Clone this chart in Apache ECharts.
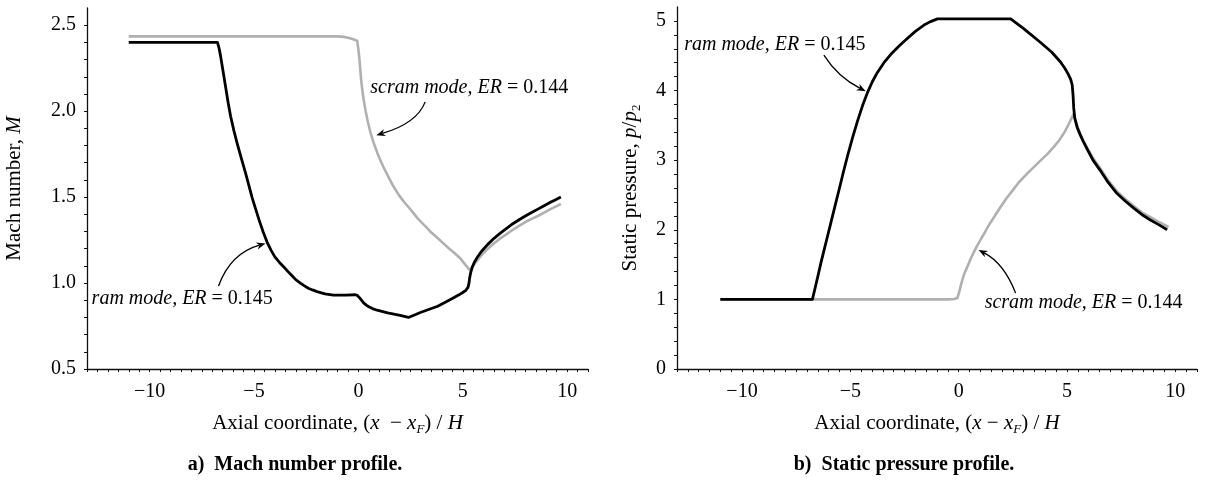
<!DOCTYPE html>
<html>
<head>
<meta charset="utf-8">
<script src="https://cdn.jsdelivr.net/npm/echarts@6/dist/echarts.min.js"></script>
<style>html,body{margin:0;padding:0;background:#fff}#c{width:1208px;height:480px}</style>
</head>
<body>
<div id="c"></div>
<script>
// ---- Data ----
// a) Mach number profile
const machRamX = [-11,-6.75,-6.68,-6.6,-6.5,-6.36,-6.24,-6.12,-5.96,-5.8,-5.6,-5.41,-5.25,-5.09,-4.92,-4.75,-4.56,-4.37,-4.18,-4.0,-3.78,-3.57,-3.38,-3.2,-3.0,-2.78,-2.6,-2.4,-2.2,-1.98,-1.6,-1.2,-0.6,-0.15,-0.05,0.05,0.15,0.25,0.38,0.5,0.7,0.9,1.4,2.0,2.4,3.0,3.8,4.5,4.8,5.0,5.15,5.25,5.3,5.33,5.38,5.45,5.55,5.7,5.9,6.2,6.5,6.8,7.1,7.4,7.7,8.0,8.3,8.6,8.9,9.2,9.45,9.7];
const machRamY = [2.40,2.40,2.37,2.32,2.245,2.14,2.05,1.97,1.885,1.81,1.722,1.642,1.57,1.497,1.43,1.365,1.297,1.237,1.19,1.152,1.12,1.093,1.068,1.045,1.02,1.0,0.985,0.97,0.96,0.95,0.937,0.93,0.93,0.932,0.928,0.915,0.9,0.885,0.872,0.862,0.85,0.842,0.826,0.812,0.80,0.83,0.865,0.91,0.93,0.945,0.958,0.975,1.0,1.03,1.06,1.09,1.12,1.15,1.185,1.225,1.26,1.29,1.318,1.345,1.368,1.39,1.41,1.43,1.45,1.47,1.485,1.50];
const machScramX = [-11,-1.0,-0.7,-0.45,-0.25,-0.06,0.0,0.06,0.12,0.18,0.25,0.35,0.45,0.57,0.72,0.9,1.05,1.2,1.45,1.69,1.95,2.2,2.45,2.65,2.85,3.05,3.25,3.44,3.7,3.9,4.1,4.3,4.6,4.88,5.1,5.33,5.42,5.5,5.65,5.8,6.0,6.2,6.5,6.8,7.1,7.4,7.7,8.0,8.3,8.6,8.9,9.2,9.45,9.7];
const machScramY = [2.435,2.435,2.432,2.425,2.418,2.41,2.36,2.29,2.2,2.13,2.07,2.0,1.94,1.88,1.82,1.76,1.715,1.675,1.615,1.56,1.51,1.47,1.435,1.405,1.375,1.35,1.325,1.30,1.272,1.25,1.228,1.205,1.175,1.144,1.11,1.076,1.088,1.10,1.125,1.148,1.175,1.20,1.232,1.26,1.285,1.31,1.333,1.355,1.373,1.39,1.41,1.43,1.445,1.46];
// b) Static pressure profile
const presRamX = [-11,-6.75,-6.62,-6.5,-6.36,-6.21,-6.05,-5.9,-5.7,-5.5,-5.32,-5.13,-4.9,-4.67,-4.44,-4.21,-3.98,-3.75,-3.45,-3.13,-2.75,-2.36,-2.0,-1.6,-1.3,-0.98,2.4,3.0,3.78,4.3,4.7,4.9,5.05,5.17,5.24,5.28,5.31,5.36,5.47,5.6,5.75,5.93,6.2,6.54,6.9,7.31,7.7,8.08,8.45,8.85,9.25,9.62];
const presRamY = [1.0,1.0,1.17,1.33,1.52,1.71,1.91,2.1,2.35,2.6,2.83,3.06,3.32,3.56,3.78,3.97,4.13,4.26,4.4,4.52,4.64,4.75,4.85,4.94,4.99,5.03,5.03,4.89,4.69,4.55,4.41,4.32,4.24,4.16,4.08,3.93,3.75,3.6,3.47,3.37,3.27,3.16,3.0,2.85,2.68,2.52,2.41,2.31,2.22,2.14,2.07,2.0];
const presScramX = [-11,-0.5,-0.2,-0.06,0.02,0.1,0.18,0.25,0.4,0.55,0.7,0.85,1.0,1.2,1.4,1.65,1.94,2.2,2.5,2.8,3.17,3.5,3.8,4.1,4.39,4.65,4.9,5.1,5.31,5.4,5.5,5.7,5.93,6.2,6.54,6.9,7.31,7.7,8.08,8.45,8.85,9.25,9.69];
const presScramY = [1.0,1.0,1.005,1.02,1.1,1.2,1.29,1.36,1.47,1.58,1.68,1.77,1.85,1.96,2.07,2.19,2.33,2.45,2.57,2.69,2.81,2.91,3.0,3.09,3.19,3.29,3.41,3.53,3.67,3.56,3.47,3.31,3.18,3.03,2.88,2.71,2.55,2.44,2.34,2.25,2.18,2.11,2.04];

// axis ranges / tick labels
const xRange = [-13, 11];
const xLabelValues = [-10, -5, 0, 5, 10];
const machRange = [0.5, 2.6];
const machLabelValues = [0.5, 1.0, 1.5, 2.0, 2.5];
const presRange = [0, 5.2];
const presLabelValues = [0, 1, 2, 3, 4, 5];

// texts
const ramLabel = '{i|ram mode, ER} = 0.145';
const scramLabel = '{i|scram mode, ER} = 0.144';
const captionA = 'a)  Mach number profile.';
const captionB = 'b)  Static pressure profile.';

// ---- Rendering ----
const FONT = '"Liberation Serif", "Times New Roman", Times, serif';
const zip = (xs, ys) => xs.map((x, i) => [x, ys[i]]);
const near = (v, arr) => arr.some(a => Math.abs(a - v) < 1e-6);
const fmtNum = (v, dec) => { const s = Math.abs(v).toFixed(dec); return v < -1e-9 ? '\u2212' + s : s; };

const richBase = {
  i: { fontFamily: FONT, fontSize: 21, fontStyle: 'italic', color: '#000' },
  n: { fontFamily: FONT, fontSize: 21, color: '#000' },
  s: { fontFamily: FONT, fontSize: 13, color: '#000', padding: [12, 0, 0, 0] },
  si: { fontFamily: FONT, fontSize: 13, fontStyle: 'italic', color: '#000', padding: [12, 0, 0, 0] }
};
const nameStyle = { fontFamily: FONT, fontSize: 21, color: '#000', rich: richBase };

function xAxisCfg(gi, name) {
  return {
    type: 'value', gridIndex: gi, min: xRange[0], max: xRange[1], interval: 0.5,
    axisLine: { show: true, onZero: false, lineStyle: { color: '#111', width: 1.3 } },
    axisTick: { show: true, length: 3, lineStyle: { color: '#111', width: 1 } },
    splitLine: { show: false },
    axisLabel: { margin: 13, fontFamily: FONT, fontSize: 20, color: '#000',
      formatter: v => near(v, xLabelValues) ? fmtNum(v, 0) : '' },
    name: name, nameLocation: 'middle', nameGap: 42, nameTextStyle: nameStyle
  };
}
function yAxisCfg(gi, range, interval, labels, dec, name, gap) {
  return {
    type: 'value', gridIndex: gi, min: range[0], max: range[1], interval: interval,
    axisLine: { show: true, onZero: false, lineStyle: { color: '#111', width: 1.3 } },
    axisTick: { show: true, length: 3, lineStyle: { color: '#111', width: 1 } },
    splitLine: { show: false },
    axisLabel: { margin: 11, fontFamily: FONT, fontSize: 20, color: '#000', showMaxLabel: false,
      formatter: v => near(v, labels) ? fmtNum(v, dec) : '' },
    name: name, nameLocation: 'middle', nameRotate: 90, nameGap: gap, nameTextStyle: nameStyle
  };
}
function line(gi, data, color, width, z) {
  return { type: 'line', xAxisIndex: gi, yAxisIndex: gi, data: data, showSymbol: false, symbol: 'none',
    smooth: false,
    lineStyle: { color: color, width: width, join: 'round', cap: 'butt' }, z: z, silent: true };
}

const chart = echarts.init(document.getElementById('c'), null, { renderer: 'canvas' });
chart.setOption({
  animation: false,
  backgroundColor: '#fff',
  grid: [
    { left: 87, top: 8, width: 501, height: 361 },
    { left: 677, top: 7, width: 520, height: 362 }
  ],
  xAxis: [
    xAxisCfg(0, 'Axial coordinate, ({i|x}  \u2212 {i|x}{si|F}) / {i|H}'),
    xAxisCfg(1, 'Axial coordinate, ({i|x} \u2212 {i|x}{si|F}) / {i|H}')
  ],
  yAxis: [
    yAxisCfg(0, machRange, 0.1, machLabelValues, 1, 'Mach number, {i|M}', 62),
    yAxisCfg(1, presRange, 0.2, presLabelValues, 0, 'Static pressure, {i|p}/{i|p}{s|2}', 34)
  ],
  series: [
    line(0, zip(machScramX, machScramY), '#b0b0b0', 2.6, 2),
    line(0, zip(machRamX, machRamY), '#000', 2.8, 3),
    line(1, zip(presScramX, presScramY), '#b0b0b0', 2.6, 2),
    line(1, zip(presRamX, presRamY), '#000', 2.8, 3)
  ]
});

// ---- Annotations (anchored in data coordinates) ----
const annRich = {
  i: { fontFamily: FONT, fontSize: 20, fontStyle: 'italic', fill: '#000' }
};
function annText(gi, text, pos) {
  const p = chart.convertToPixel({ gridIndex: gi }, pos);
  return { type: 'text', x: p[0], y: p[1], z: 10,
    style: { text: text, rich: annRich, fontFamily: FONT, fontSize: 20, fill: '#000', align: 'left', verticalAlign: 'middle' } };
}
function arrow(gi, s, c, e) {
  const P = a => chart.convertToPixel({ gridIndex: gi }, a);
  const ps = P(s), pc = P(c), pe = P(e);
  let dx = pe[0] - pc[0], dy = pe[1] - pc[1];
  const L = Math.hypot(dx, dy); dx /= L; dy /= L;
  const hl = 9, hw = 3.6;
  const base = [pe[0] - dx * hl, pe[1] - dy * hl];
  const notch = [pe[0] - dx * hl * 0.7, pe[1] - dy * hl * 0.7];
  return [
    { type: 'bezierCurve', z: 10, shape: { x1: ps[0], y1: ps[1], x2: notch[0], y2: notch[1], cpx1: pc[0], cpy1: pc[1] },
      style: { stroke: '#000', lineWidth: 1.3, fill: null } },
    { type: 'polygon', z: 10, shape: { points: [pe, [base[0] - dy * hw, base[1] + dx * hw], notch, [base[0] + dy * hw, base[1] - dx * hw]] },
      style: { fill: '#000' } }
  ];
}
function caption(text, cx, cy) {
  return { type: 'text', x: cx, y: cy, z: 10,
    style: { text: text, fontFamily: FONT, fontSize: 20, fontWeight: 'bold', fill: '#000', align: 'center', verticalAlign: 'middle' } };
}

const graphics = [].concat(
  [annText(0, scramLabel, [0.57, 2.134])],
  arrow(0, [3.2, 2.054], [2.81, 1.93], [0.86, 1.86]),
  [annText(0, ramLabel, [-12.78, 0.907])],
  arrow(0, [-6.7, 0.983], [-6.12, 1.173], [-4.45, 1.23]),
  [annText(1, ramLabel, [-12.67, 4.655])],
  arrow(1, [-6.22, 4.51], [-5.59, 4.2], [-4.29, 3.99]),
  [annText(1, scramLabel, [1.2, 0.948])],
  arrow(1, [2.63, 1.09], [2.09, 1.52], [0.92, 1.71]),
  [caption(captionA, 295, 465), caption(captionB, 904, 465)]
);
chart.setOption({ graphic: graphics });
</script>
</body>
</html>
